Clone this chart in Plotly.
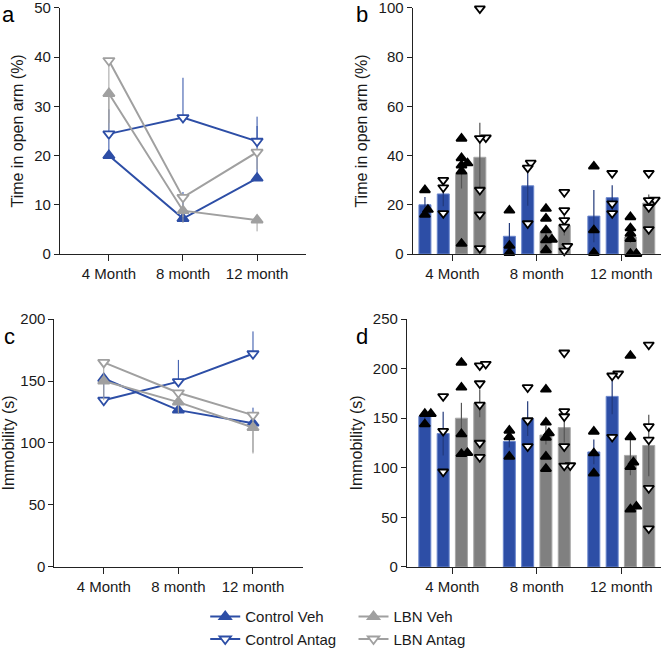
import plotly.graph_objects as go

# ---- data ----
ages = ["4 Month", "8 month", "12 month"]
groups = ["Control Veh", "Control Antag", "LBN Veh", "LBN Antag"]

# open arm time (%), group means and SEM per age
oa_mean = {
    "Control Veh": [20.0, 7.2, 15.4],
    "Control Antag": [24.4, 27.7, 22.9],
    "LBN Veh": [32.6, 8.8, 6.9],
    "LBN Antag": [39.3, 11.5, 20.7],
}
oa_sem = {
    "Control Veh": [3.2, 5.4, 10.6],
    "Control Antag": [5.0, 8.1, 5.0],
    "LBN Veh": [6.0, 2.5, 2.3],
    "LBN Antag": [14.0, 4.0, 3.5],
}
# individual animals, open arm time (%)
oa_points = {
    "Control Veh": [[26, 16, 18], [17.7, 3.4, 0.5], [35.6, 9.7, 0.5]],
    "Control Antag": [[30, 27, 16.5], [37, 35, 12.4], [32.8, 20.5, 16.5]],
    "LBN Veh": [[46.9, 39, 36.9, 36, 33.6, 4.2],
                [18.4, 14.4, 9.7, 5.9, 5.6, 1.6],
                [15, 10.5, 8.3, 6.2, 0.1, 0.1]],
    "LBN Antag": [[47.3, 47, 26, 16, 2.3, 99.7],
                  [25.1, 17.7, 13.7, 11, 3.2, 1.3],
                  [32.8, 22, 21.8, 19, 10]],
}

# immobility (s), group means and SEM per age
im_mean = {
    "Control Veh": [152, 126.5, 116],
    "Control Antag": [134.5, 149.5, 172],
    "LBN Veh": [150, 133, 112.5],
    "LBN Antag": [165, 140.5, 122.5],
}
im_sem = {
    "Control Veh": [3, 6, 12.5],
    "Control Antag": [22, 17.5, 18],
    "LBN Veh": [15.5, 9.5, 20],
    "LBN Antag": [14, 15, 31],
}
im_points = {
    "Control Veh": [[154.4, 154.4, 144], [137.6, 131, 111.4], [136.6, 114.7, 94.5]],
    "Control Antag": [[172, 137, 96], [181, 147.7, 121.5], [194.8, 192.8, 131]],
    "LBN Veh": [[206, 181, 134, 114, 115],
                [179, 145.7, 135, 130.5, 111.4, 99],
                [213, 131, 101, 105.6, 58.2, 61]],
    "LBN Antag": [[203, 204.6, 185, 163.5, 125, 110.7],
                  [216, 156.8, 151.7, 121.5, 102.3, 102],
                  [224, 141.7, 128.2, 79.4, 38.7]],
}

# ---- styles ----
FONT = "Arial, Liberation Sans, sans-serif"
BLUE = "#2D4EA6"
GREY_LINE = "#A0A0A0"
GREY_BAR = "#808080"

line_style = {
    "Control Veh": dict(color=BLUE, symbol="triangle-up", fill=BLUE, err="up"),
    "Control Antag": dict(color=BLUE, symbol="triangle-down", fill="white", err="up"),
    "LBN Veh": dict(color=GREY_LINE, symbol="triangle-up", fill=GREY_LINE, err="down"),
    "LBN Antag": dict(color=GREY_LINE, symbol="triangle-down", fill="white", err="down"),
}
bar_style = {
    "Control Veh": dict(fill=BLUE, edge="#6A86CC", err="#22397A", pt="triangle-up", ptfill="black"),
    "Control Antag": dict(fill=BLUE, edge="#6A86CC", err="#22397A", pt="triangle-down", ptfill="white"),
    "LBN Veh": dict(fill=GREY_BAR, edge="#A8A8A8", err="#555555", pt="triangle-up", ptfill="black"),
    "LBN Antag": dict(fill=GREY_BAR, edge="#A8A8A8", err="#555555", pt="triangle-down", ptfill="white"),
}
bar_offsets = [-0.325, -0.108, 0.108, 0.325]
bar_width = 0.142


def swarm(values, y_px, x_px, dmin=5.0, step=3.0):
    """Simple beeswarm: offsets (in x data units) so markers don't pile up."""
    order = sorted(range(len(values)), key=lambda i: values[i])
    placed = []
    offs = [0.0] * len(values)
    for i in order:
        yp = values[i] * y_px
        k = 0
        while True:
            n = (k + 1) // 2
            cand = n * step * (1 if k % 2 else -1) if k else 0.0
            if all(((cand - px) ** 2 + (yp - py) ** 2) ** 0.5 >= dmin for px, py in placed):
                break
            k += 1
        placed.append((cand, yp))
        offs[i] = cand / x_px
    return offs


fig = go.Figure()

# ---- line panels (a, c) ----
for xa, ya, means, sems in [("x", "y", oa_mean, oa_sem), ("x3", "y3", im_mean, im_sem)]:
    for g in groups:
        s = line_style[g]
        up = [e if s["err"] == "up" else 0 for e in sems[g]]
        dn = [e if s["err"] == "down" else 0 for e in sems[g]]
        fig.add_trace(go.Scatter(
            x=ages, y=means[g], xaxis=xa, yaxis=ya, name=g,
            mode="lines+markers",
            line=dict(color=s["color"], width=2),
            marker=dict(symbol=s["symbol"], size=10, color=s["fill"],
                        line=dict(color=s["color"], width=1.8)),
            error_y=dict(type="data", symmetric=False, array=up, arrayminus=dn,
                         color=s["color"], thickness=1, width=0),
            showlegend=(xa == "x"),
            legend="legend" if g.startswith("Control") else "legend2",
        ))

# ---- bar panels (b, d) ----
for xa, ya, means, sems, pts, ypx in [
    ("x2", "y2", oa_mean, oa_sem, oa_points, 245 / 100),
    ("x4", "y4", im_mean, im_sem, im_points, 247.7 / 250),
]:
    for gi, g in enumerate(groups):
        s = bar_style[g]
        fig.add_trace(go.Bar(
            x=[i + bar_offsets[gi] for i in range(len(ages))], y=means[g],
            width=bar_width, xaxis=xa, yaxis=ya, showlegend=False,
            marker=dict(color=s["fill"], line=dict(color=s["edge"], width=1)),
            error_y=dict(type="data", array=sems[g], color=s["err"], thickness=1.2, width=0),
        ))
    for gi, g in enumerate(groups):
        s = bar_style[g]
        xs, ys = [], []
        for i, vals in enumerate(pts[g]):
            offs = swarm(vals, ypx, 84.5)
            xs += [i + bar_offsets[gi] + o for o in offs]
            ys += vals
        fig.add_trace(go.Scatter(
            x=xs, y=ys, xaxis=xa, yaxis=ya, mode="markers", showlegend=False,
            cliponaxis=False,
            marker=dict(symbol=s["pt"], size=9, color=s["ptfill"],
                        line=dict(color="black", width=1.8)),
        ))

# ---- axes ----
tickfont = dict(family=FONT, size=15, color="#1a1a1a")
titlefont = dict(family=FONT, size=16, color="#1a1a1a")
ax_common = dict(showline=True, linecolor="#222222", linewidth=1.2, showgrid=False,
                 zeroline=False, ticks="outside", tickcolor="#222222", tickfont=tickfont,
                 automargin=False, ticklabeloverflow="allow")

fig.update_layout(
    xaxis=dict(domain=[0.0906, 0.4622], anchor="y", type="category",
               range=[-0.66, 2.66], ticklen=6, **ax_common),
    yaxis=dict(domain=[0.6128, 0.988], anchor="x", range=[0, 50], dtick=10, ticklen=5,
               title=dict(text="Time in open arm (%)", font=titlefont, standoff=6), **ax_common),
    xaxis2=dict(domain=[0.6234, 0.9985], anchor="y2", range=[-0.47, 2.47],
                tickvals=[0, 1, 2], ticktext=ages, ticklen=6, **ax_common),
    yaxis2=dict(domain=[0.6128, 0.988], anchor="x2", range=[0, 100], dtick=20, ticklen=5,
                title=dict(text="Time in open arm (%)", font=titlefont, standoff=6), **ax_common),
    xaxis3=dict(domain=[0.0823, 0.4577], anchor="y3", type="category",
                range=[-0.66, 2.67], ticklen=6, **ax_common),
    yaxis3=dict(domain=[0.1357, 0.5137], anchor="x3", range=[0, 200], dtick=50, ticklen=5,
                title=dict(text="Immobility (s)", font=titlefont, standoff=6), **ax_common),
    xaxis4=dict(domain=[0.6148, 0.9985], anchor="y4", range=[-0.536, 2.47],
                tickvals=[0, 1, 2], ticktext=ages, ticklen=6, **ax_common),
    yaxis4=dict(domain=[0.1357, 0.5137], anchor="x4", range=[0, 250], dtick=50, ticklen=5,
                title=dict(text="Immobility (s)", font=titlefont, standoff=6), **ax_common),
)

# ---- panel letters ----
for txt, x, y in [("a", 0, 656), ("b", 354, 656), ("c", 2, 334), ("d", 354, 334)]:
    fig.add_annotation(text=txt, xref="paper", yref="paper", x=x / 662, y=y / 656,
                       xanchor="left", yanchor="top", showarrow=False,
                       font=dict(family=FONT, size=22, color="black"))

legend_style = dict(font=dict(family=FONT, size=15, color="#1a1a1a"), bgcolor="rgba(0,0,0,0)",
                    xanchor="left", yanchor="top", tracegroupgap=0, itemwidth=30)
fig.update_layout(
    width=662, height=656,
    margin=dict(l=0, r=0, t=0, b=0, autoexpand=False),
    paper_bgcolor="white", plot_bgcolor="white",
    barmode="overlay",
    legend=dict(x=0.31, y=0.085, **legend_style),
    legend2=dict(x=0.534, y=0.085, **legend_style),
)

fig.write_html("out.html", config={"displayModeBar": False},
               post_script="document.body.style.margin='0';")
